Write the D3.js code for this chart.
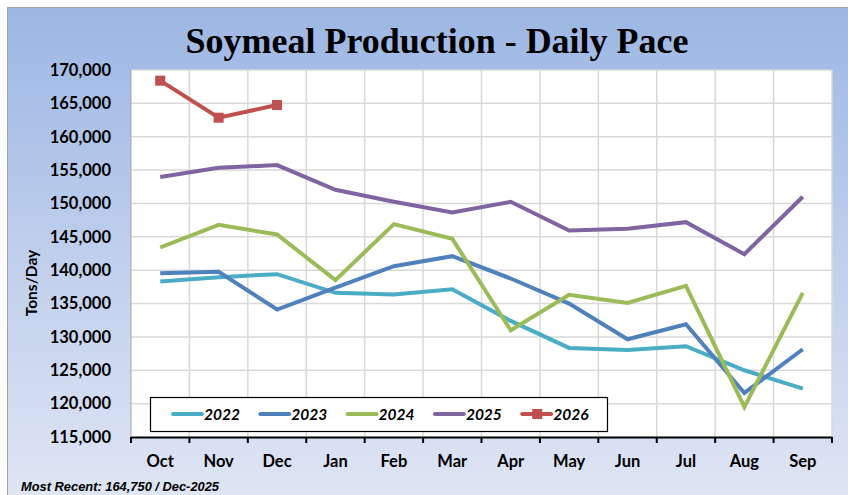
<!DOCTYPE html>
<html>
<head>
<meta charset="utf-8">
<script src="https://cdn.jsdelivr.net/npm/d3@7"></script>
<style>
  body { margin: 0; background: #fff; }
  svg { display: block; }
  .tick-lbl { font-family: Lato, "Open Sans", sans-serif; font-weight: bold; font-size: 16.5px; fill: #000; }
</style>
</head>
<body>
<div id="chart"></div>
<script>
const months = ["Oct", "Nov", "Dec", "Jan", "Feb", "Mar", "Apr", "May", "Jun", "Jul", "Aug", "Sep"];
const yTicks = [115000, 120000, 125000, 130000, 135000, 140000, 145000, 150000, 155000, 160000, 165000, 170000];

const years = ["2022", "2023", "2024", "2025", "2026"];
const colors = ["#4bacc6", "#4f81bd", "#9bbb59", "#8064a2", "#c0504d"];

const v2022 = [138300, 138950, 139400, 136600, 136350, 137150, 132400, 128350, 128050, 128600, 125000, 122250];
const v2023 = [139550, 139750, 134100, 137400, 140600, 142100, 138750, 135000, 129650, 131900, 121600, 128150];
const v2024 = [143400, 146800, 145350, 138500, 146900, 144700, 131000, 136300, 135100, 137650, 119500, 136600];
const v2025 = [153950, 155350, 155750, 152050, 150250, 148650, 150250, 145950, 146200, 147200, 142400, 151000];
const v2026 = [168400, 162850, 164750];

const series = [v2022, v2023, v2024, v2025, v2026];

const W = 848, H = 495;
const plot = { left: 131, right: 832, top: 70, bottom: 437 };

const svg = d3.select("#chart").append("svg")
    .attr("width", W)
    .attr("height", H);

// background frame with gradient
const defs = svg.append("defs");
const grad = defs.append("linearGradient")
    .attr("id", "bg")
    .attr("x1", 0).attr("y1", 0).attr("x2", 0).attr("y2", 1);
grad.append("stop").attr("offset", "0%").attr("stop-color", "#9cb7e4");
grad.append("stop").attr("offset", "55%").attr("stop-color", "#c3d1ed");
grad.append("stop").attr("offset", "100%").attr("stop-color", "#dfe6f4");

svg.append("rect")
    .attr("x", 7.5).attr("y", 7.5)
    .attr("width", W).attr("height", H)
    .attr("fill", "url(#bg)")
    .attr("stroke", "#a6a6a6");

// title
svg.append("text")
    .attr("x", 437)
    .attr("y", 53)
    .attr("text-anchor", "middle")
    .attr("textLength", 503)
    .attr("lengthAdjust", "spacingAndGlyphs")
    .style("font-family", "'Liberation Serif', serif")
    .style("font-weight", "bold")
    .style("font-size", "36px")
    .text("Soymeal Production - Daily Pace");

const x = d3.scaleBand()
    .domain(months)
    .range([plot.left, plot.right]);

const y = d3.scaleLinear()
    .domain([115000, 170000])
    .range([plot.bottom, plot.top]);

// plot area
svg.append("rect")
    .attr("x", plot.left).attr("y", plot.top)
    .attr("width", plot.right - plot.left)
    .attr("height", plot.bottom - plot.top)
    .attr("fill", "#fff");

// gridlines
svg.append("g")
    .selectAll("line")
    .data(yTicks.slice(1))
    .join("line")
    .attr("x1", plot.left).attr("x2", plot.right)
    .attr("y1", d => y(d)).attr("y2", d => y(d))
    .attr("stroke", "#d9d9d9")
    .attr("stroke-width", 1.5);

svg.append("g")
    .selectAll("line")
    .data(months)
    .join("line")
    .attr("x1", d => x(d) + x.bandwidth())
    .attr("x2", d => x(d) + x.bandwidth())
    .attr("y1", plot.top).attr("y2", plot.bottom)
    .attr("stroke", "#d9d9d9")
    .attr("stroke-width", 1.5);

svg.append("line")
    .attr("x1", plot.left).attr("x2", plot.left)
    .attr("y1", plot.top).attr("y2", plot.bottom)
    .attr("stroke", "#a6a6a6");

// y axis labels
const yAxis = svg.append("g")
    .attr("transform", `translate(${plot.left}, 0)`)
    .call(d3.axisLeft(y).tickValues(yTicks).tickSize(0).tickPadding(20).tickFormat(d3.format(",")));
yAxis.select(".domain").remove();
yAxis.selectAll("text").attr("class", "tick-lbl").attr("fill", null).attr("font-size", null).attr("font-family", null);

// x axis
const xAxis = svg.append("g")
    .attr("transform", `translate(0, ${plot.bottom})`)
    .call(d3.axisBottom(x).tickSize(0).tickPadding(18));
xAxis.select(".domain").attr("stroke", "#000").attr("stroke-width", 2);
xAxis.selectAll("text").attr("class", "tick-lbl").attr("fill", null).attr("font-size", null).attr("font-family", null);

svg.append("g")
    .selectAll("line")
    .data([0].concat(months.map((m, i) => i + 1)))
    .join("line")
    .attr("x1", d => plot.left + d * x.step())
    .attr("x2", d => plot.left + d * x.step())
    .attr("y1", plot.bottom).attr("y2", plot.bottom + 6)
    .attr("stroke", "#000")
    .attr("stroke-width", 2);

// y axis title
svg.append("text")
    .attr("transform", `translate(37, 283) rotate(-90)`)
    .attr("text-anchor", "middle")
    .style("font-family", "Lato, sans-serif")
    .style("font-weight", "bold")
    .style("font-size", "15.5px")
    .text("Tons/Day");

// lines
const line = d3.line()
    .x((d, i) => x(months[i]) + x.bandwidth() / 2)
    .y(d => y(d));

series.forEach((vals, k) => {
    svg.append("path")
        .datum(vals)
        .attr("fill", "none")
        .attr("stroke", colors[k])
        .attr("stroke-width", 4)
        .attr("stroke-linejoin", "miter")
        .attr("d", line);
});

svg.append("g")
    .selectAll("rect")
    .data(v2026)
    .join("rect")
    .attr("x", (d, i) => x(months[i]) + x.bandwidth() / 2 - 5)
    .attr("y", d => y(d) - 5)
    .attr("width", 10).attr("height", 10)
    .attr("fill", colors[4]);

// legend
const legend = svg.append("g");
legend.append("rect")
    .attr("x", 150.5).attr("y", 397.5)
    .attr("width", 457).attr("height", 34)
    .attr("fill", "#fff")
    .attr("stroke", "#000")
    .attr("stroke-width", 1.2);

years.forEach((yr, k) => {
    const lx = 173 + k * 87.3;
    legend.append("line")
        .attr("x1", lx).attr("x2", lx + 29)
        .attr("y1", 414).attr("y2", 414)
        .attr("stroke", colors[k])
        .attr("stroke-width", 4)
        .attr("stroke-linecap", "round");
    if (k === 4) {
        legend.append("rect")
            .attr("x", lx + 10).attr("y", 409)
            .attr("width", 10).attr("height", 10)
            .attr("fill", colors[k]);
    }
    legend.append("text")
        .attr("x", lx + 31)
        .attr("y", 419.5)
        .style("font-family", "Lato, sans-serif")
        .style("font-weight", "bold")
        .style("font-style", "italic")
        .style("font-size", "15.5px")
        .text(yr);
});

// footnote
svg.append("text")
    .attr("x", 21)
    .attr("y", 491)
    .attr("textLength", 198)
    .attr("lengthAdjust", "spacingAndGlyphs")
    .style("font-family", "'Liberation Sans', Arial, sans-serif")
    .style("font-weight", "bold")
    .style("font-style", "italic")
    .style("font-size", "12.5px")
    .text("Most Recent: 164,750 / Dec-2025");
</script>
</body>
</html>
